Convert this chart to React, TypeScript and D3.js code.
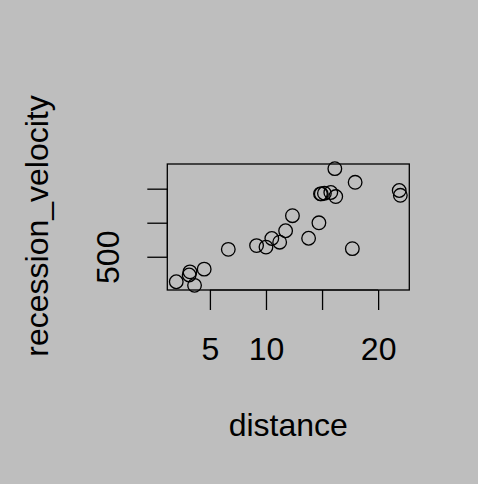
import React, { useEffect, useRef } from 'react';
import * as d3 from 'd3';

// hubble data: distance (Mpc) and recession velocity (km/s)
const distance = [
  2.0, 9.16, 16.14, 17.95, 21.88, 3.22, 11.22, 11.75, 3.63, 13.8, 10.0, 10.52,
  6.64, 15.21, 17.7, 14.86, 16.22, 15.78, 14.93, 21.98, 12.36, 4.49, 3.15, 14.72,
];
const recession_velocity = [
  133, 664, 1794, 1594, 1473, 278, 714, 882, 80, 772, 642, 768, 609, 1433, 619,
  1424, 1384, 1444, 1423, 1403, 1103, 318, 232, 999,
];
const xTicks = [5, 10, 15, 20];
const yTicks = [500, 1000, 1500];
const yTickLabels = ['500', '', ''];

export default function App() {
  const ref = useRef<SVGSVGElement>(null);

  useEffect(() => {
    const svg = d3.select(ref.current);
    svg.selectAll('*').remove();

    const width = 478;
    const height = 484;
    const box = { left: 167.3, right: 409.3, top: 164, bottom: 290 };
    const font = 'Liberation Sans, Arial, sans-serif';
    const fontSize = '32px';

    // R style 4% padding on each side
    const xExt = d3.extent(distance) as [number, number];
    const yExt = d3.extent(recession_velocity) as [number, number];
    const xPad = (xExt[1] - xExt[0]) * 0.04;
    const yPad = (yExt[1] - yExt[0]) * 0.04;

    const x_scale = d3
      .scaleLinear()
      .domain([xExt[0] - xPad, xExt[1] + xPad])
      .range([box.left, box.right]);
    const y_scale = d3
      .scaleLinear()
      .domain([yExt[0] - yPad, yExt[1] + yPad])
      .range([box.bottom, box.top]);

    svg.append('rect').attr('width', width).attr('height', height).style('fill', '#bebebe');

    // points
    svg
      .selectAll('circle.pt')
      .data(distance)
      .enter()
      .append('circle')
      .attr('class', 'pt')
      .attr('cx', (d) => x_scale(d))
      .attr('cy', (d, i) => y_scale(recession_velocity[i]))
      .attr('r', 6.8)
      .style('fill', 'none')
      .style('stroke', 'black')
      .style('stroke-width', 1.3);

    // box
    svg
      .append('rect')
      .attr('x', box.left)
      .attr('y', box.top)
      .attr('width', box.right - box.left)
      .attr('height', box.bottom - box.top)
      .style('fill', 'none')
      .style('stroke', 'black')
      .style('stroke-width', 1.3);

    const x_axis = d3.axisBottom(x_scale).tickValues(xTicks).tickSize(20).tickPadding(10);
    const gx = svg
      .append('g')
      .attr('transform', 'translate(0,' + box.bottom + ')')
      .call(x_axis);
    gx.select('.domain')
      .attr('d', 'M' + x_scale(xTicks[0]) + ',0H' + x_scale(xTicks[xTicks.length - 1]));
    gx.selectAll('line').style('stroke-width', 1.3);
    gx.selectAll('text')
      .attr('y', 70)
      .attr('dy', 0)
      .style('font-family', font)
      .style('font-size', fontSize)
      .style('fill', 'black')
      .text((d: any) => (d === 15 ? '' : String(d)));

    const y_axis = d3.axisLeft(y_scale).tickValues(yTicks).tickSize(20).tickFormat((d, i) => yTickLabels[i]);
    const gy = svg
      .append('g')
      .attr('transform', 'translate(' + box.left + ',0)')
      .call(y_axis);
    gy.select('.domain')
      .attr('d', 'M0,' + y_scale(yTicks[0]) + 'V' + y_scale(yTicks[yTicks.length - 1]));
    gy.selectAll('line').style('stroke-width', 1.3);
    gy.selectAll('.tick text')
      .attr('x', 0)
      .attr('dy', 0)
      .attr('transform', 'translate(-48.5,0) rotate(-90)')
      .style('text-anchor', 'middle')
      .style('font-family', font)
      .style('font-size', fontSize)
      .style('fill', 'black');

    svg
      .append('text')
      .attr('x', (box.left + box.right) / 2)
      .attr('y', 436)
      .style('text-anchor', 'middle')
      .style('font-family', font)
      .style('font-size', fontSize)
      .text('distance');

    svg
      .append('text')
      .attr('transform', 'translate(48,226) rotate(-90)')
      .style('text-anchor', 'middle')
      .style('font-family', font)
      .style('font-size', fontSize)
      .text('recession_velocity');
  }, []);

  return (
    <div style={{ position: 'absolute', left: 0, top: 0 }}>
      <svg ref={ref} width={478} height={484} style={{ display: 'block' }} />
    </div>
  );
}
